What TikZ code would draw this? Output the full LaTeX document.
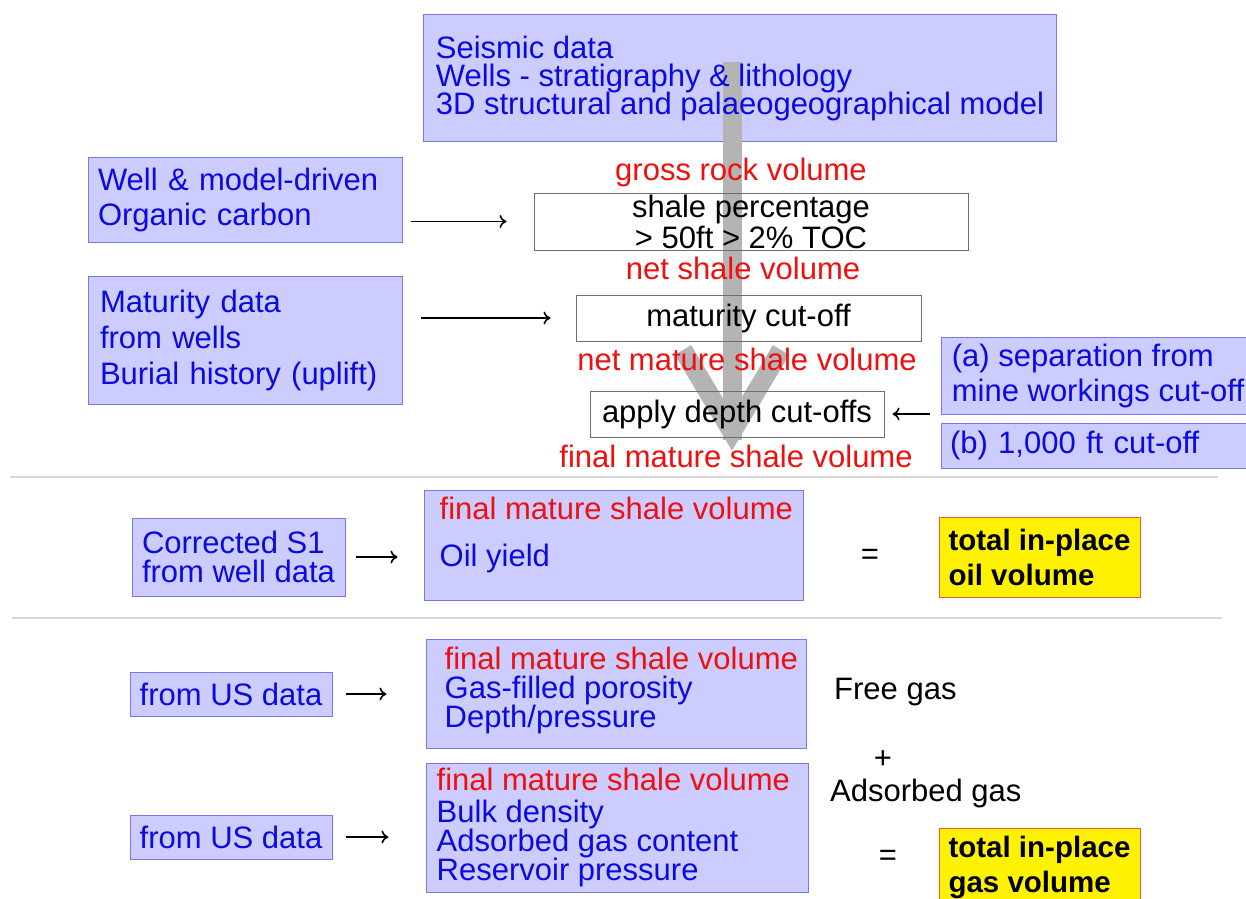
\documentclass[tikz,border=0pt]{standalone}
\usepackage{fontspec}
\setmainfont{Liberation Sans}
\usetikzlibrary{arrows.meta,positioning,calc,backgrounds}

\definecolor{boxfill}{RGB}{204,204,255}
\definecolor{boxedge}{RGB}{120,120,235}
\definecolor{txtblue}{RGB}{10,10,225}
\definecolor{volred}{RGB}{240,15,15}
\definecolor{cutedge}{RGB}{110,110,110}
\definecolor{flowgray}{RGB}{180,180,180}
\definecolor{sumedge}{RGB}{235,90,60}
\definecolor{rulegray}{RGB}{215,215,215}

\newcommand{\pxfont}[2]{\fontsize{#1}{#2}\selectfont\lineskiplimit=-40pt\relax}

\begin{document}
\begin{tikzpicture}[x=1pt, y=-1pt,
    inbox/.style={draw=boxedge, fill=boxfill, line width=1pt, text=txtblue, font=\pxfont{31}{28}, align=left, inner ysep=0pt},
    cutbox/.style={draw=cutedge, line width=1pt, font=\pxfont{31}{31}, align=center, inner sep=0pt},
    vol/.style={text=volred, font=\pxfont{31}{28}, inner sep=0pt},
    txt/.style={font=\pxfont{31}{28}, inner sep=0pt},
    sumbox/.style={draw=sumedge, fill=yellow, line width=1pt, font=\bfseries\pxfont{29.5}{35}, align=left, inner ysep=0pt},
    arr/.style={-{To[length=7pt,width=13pt]}, line width=1.6pt},
    flow/.style={draw=flowgray, line width=19pt, line join=miter},
    sep/.style={draw=rulegray, line width=1.2pt}
]
\useasboundingbox (0,0) rectangle (1246,898);
\clip (0,0) rectangle (1246,898);

\node[inbox, draw=none, fill=none, minimum width=632pt, minimum height=126pt] (seis) at (740,78) {Seismic data\\Wells - stratigraphy \& lithology\\3D structural and palaeogeographical model};
\node[inbox, text width=294pt, inner xsep=10pt, minimum height=85pt, font=\pxfont{31}{35}] (well) at (245,199.5) {Well \& model-driven\\Organic carbon};
\node[inbox, text width=290pt, inner xsep=12pt, minimum height=128pt, font=\pxfont{31}{36}] (matur) at (245,340) {Maturity data\\from wells\\Burial history (uplift)};

\node[vol] (gross) at (741,172) {gross rock volume};
\node[cutbox, minimum width=434pt, minimum height=57pt] (shale) at (751,221.5) {shale percentage\\> 50ft > 2\% TOC};
\node[vol] (netsh) at (743,268) {net shale volume};
\node[cutbox, minimum width=345pt, minimum height=46pt] (matcut) at (748.5,318) {maturity cut-off};
\node[vol] (netmat) at (747,359) {net mature shale volume};
\node[cutbox, minimum width=294pt, minimum height=46pt] (depth) at (737,414) {apply depth cut-offs};
\node[vol] (final) at (736,456) {final mature shale volume};

\node[inbox, minimum width=314pt, minimum height=77pt, font=\pxfont{31}{35}] (sepa) at (1098,375.5) {(a) separation from\\mine workings cut-off};
\node[inbox, text width=296pt, inner xsep=9pt, minimum height=45pt] (thou) at (1098,445.5) {(b) 1,000 ft cut-off};

\begin{scope}[on background layer]
  \draw[draw=boxedge, fill=boxfill, line width=1pt] (seis.north west) rectangle (seis.south east);
  \draw[flow] (732,62) -- (732,440);
  \draw[flow] (683,350) -- (732,432) -- (781,350);
\end{scope}

\draw[arr, shorten <=8pt, shorten >=27pt] (well.east |- shale.west) -- (shale.west);
\draw[arr, shorten <=18pt, shorten >=25pt] (matur.east |- matcut.west) -- (matcut.west);
\draw[arr, shorten <=11pt, shorten >=8pt] (sepa.west |- depth.east) -- (depth.east);

\draw[sep] (10,477) -- (1218,477);
\draw[sep] (12,618) -- (1222,618);

\node[inbox, minimum width=213pt, minimum height=78pt, font=\pxfont{31}{29}] (corr) at (238.5,557) {Corrected S1\\from well data};
\node[inbox, minimum width=379pt, minimum height=110pt] (oilbox) at (613.5,545) {};
\node[txt, anchor=north west, align=left, text=txtblue] (oiltxt) at ([shift={(16,7)}]oilbox.north west) {\textcolor{volred}{final mature shale volume}\\[19pt]Oil yield};
\node[txt] (eqoil) at (870,557) {=};
\node[sumbox, minimum width=201pt, minimum height=80pt] (oilsum) at (1039.5,557) {total in-place\\oil volume};
\draw[arr, shorten <=10pt, shorten >=26pt] (corr.east) -- (corr.east -| oilbox.west);

\node[inbox, minimum width=202pt, minimum height=44pt, align=center] (us1) at (231,694) {from US data};
\node[inbox, minimum width=380pt, minimum height=109pt] (gbox1) at (616,693.5) {};
\node[txt, anchor=north west, align=left, text=txtblue, font=\pxfont{31}{29}] (gtxt1) at ([shift={(19,8)}]gbox1.north west) {\textcolor{volred}{final mature shale volume}\\Gas-filled porosity\\Depth/pressure};
\node[txt, anchor=west] (free) at (834,692) {Free gas};
\node[txt] (plus) at (883,760) {+};
\node[txt, anchor=west] (adsorb) at (830,793) {Adsorbed gas};

\node[inbox, minimum width=202pt, minimum height=44pt, align=center] (us2) at (231,837) {from US data};
\node[inbox, minimum width=382pt, minimum height=129pt] (gbox2) at (617,827.5) {};
\node[txt, anchor=north west, align=left, text=txtblue, font=\pxfont{31}{29}] (gtxt2) at ([shift={(11,5)}]gbox2.north west) {\textcolor{volred}{final mature shale volume}\\[3pt]Bulk density\\Adsorbed gas content\\Reservoir pressure};
\node[txt] (eqgas) at (888,858) {=};
\node[sumbox, minimum width=201pt, minimum height=78pt] (gassum) at (1039.5,867) {total in-place\\gas volume};

\draw[arr, shorten <=13pt, shorten >=39pt] (us1.east) -- (us1.east -| gbox1.west);
\draw[arr, shorten <=13pt, shorten >=37pt] (us2.east) -- (us2.east -| gbox2.west);
\end{tikzpicture}
\end{document}
